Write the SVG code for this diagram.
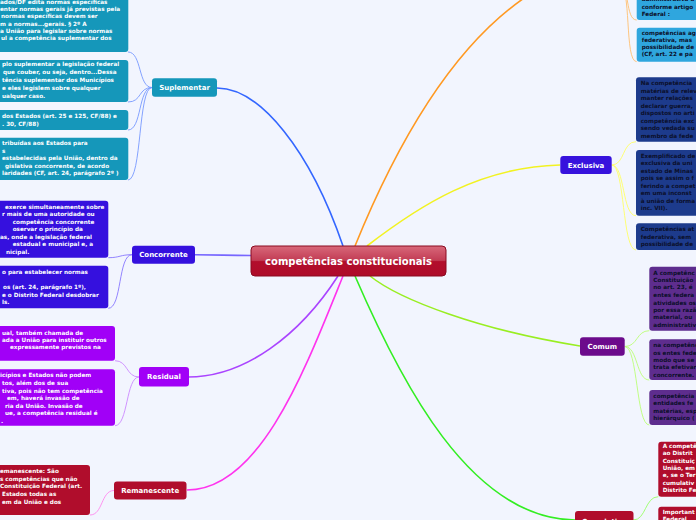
<svg xmlns="http://www.w3.org/2000/svg" width="696" height="520" viewBox="0 0 696 520">
<defs>
<linearGradient id="gc" x1="0" y1="0" x2="0" y2="1">
<stop offset="0" stop-color="#d8687a"/>
<stop offset="0.48" stop-color="#c23c54"/>
<stop offset="0.52" stop-color="#b20e2c"/>
<stop offset="1" stop-color="#ae0c29"/>
</linearGradient>
</defs>
<style>
text{font-family:"DejaVu Sans",Verdana,sans-serif;font-weight:bold}
.n{font-size:5.7px;fill:#ffffff}
.d{font-size:5.7px;fill:#0b0f2a}
.b{font-size:7px;fill:#ffffff;text-anchor:middle}
.c{fill:none;stroke-width:1.6}
.s{fill:none;stroke-width:0.9}
.teal{fill:#1597ba}
.indigo{fill:#3510de}
.viol{fill:#a100f7}
.red{fill:#b00d2c}
.navy{fill:#1d3b8c}
.plum{fill:#6c0b8c}
.plumn{fill:#5e2d8e}
.sky{fill:#2fa6de}
</style>
<rect x="0" y="0" width="696" height="520" fill="#f2f5fe"/>

<g id="connectors">
<path class="c" stroke="#3366ff" d="M343,246 C310,150 260,88 217,88"/>
<path class="c" stroke="#ff9922" d="M355,246 C390,160 450,40 540,-12"/>
<path class="c" stroke="#f2f222" d="M367,246 C420,205 480,167 560,165"/>
<path class="c" stroke="#99ee22" d="M370,276 C400,300 480,330 580,346"/>
<path class="c" stroke="#33ee22" d="M355,276 C400,380 470,519 575,520"/>
<path class="c" stroke="#ff33ee" d="M343,276 C305,370 260,490 187,490"/>
<path class="c" stroke="#aa44ff" d="M338,276 C300,335 245,377 188,377"/>
<path class="c" stroke="#7766ff" d="M195,254.7 C220,254.7 226,255.5 251,255.5"/>

<path class="s" stroke="#7799ff" d="M152,87.5 C138,87.5 142,52 128,52"/>
<path class="s" stroke="#7799ff" d="M152,87.5 C138,87.5 142,102 128,102"/>
<path class="s" stroke="#7799ff" d="M152,87.5 C138,87.5 142,130 128,130"/>
<path class="s" stroke="#7799ff" d="M152,87.5 C138,87.5 142,180 128,180"/>

<path class="s" stroke="#8877ff" d="M132,254.7 C120,254.7 120,257.7 108.3,257.7"/>
<path class="s" stroke="#8877ff" d="M132,254.7 C118,254.7 122,308.3 108.3,308.3"/>

<path class="s" stroke="#cc88ff" d="M139,377 C126,377 128,360.7 115,360.7"/>
<path class="s" stroke="#cc88ff" d="M139,377 C126,377 128,425.7 115,425.7"/>

<path class="s" stroke="#ff88ee" d="M114,490.5 C101,490.5 103,515 90,515"/>

<path class="s" stroke="#ffc070" d="M619,-16 C630,-16 625,20 636.7,20"/>
<path class="s" stroke="#ffc070" d="M619,-16 C632,-16 624,61.7 636.7,61.7"/>

<path class="s" stroke="#ffff66" d="M611.7,165 C625,165 622,141.7 636,141.7"/>
<path class="s" stroke="#ffff66" d="M611.7,165 C625,165 622,215.7 636,215.7"/>
<path class="s" stroke="#ffff66" d="M611.7,165 C625,165 622,250 636,250"/>

<path class="s" stroke="#bbff77" d="M624.7,346.5 C638,346.5 636,330.7 649.3,330.7"/>
<path class="s" stroke="#bbff77" d="M624.7,346.5 C638,346.5 636,380 649.3,380"/>
<path class="s" stroke="#bbff77" d="M624.7,346.5 C638,346.5 636,425 649.3,425"/>

<path class="s" stroke="#99ff66" d="M633.5,520 C646,520 645,496.7 658.3,496.7"/>
<path class="s" stroke="#99ff66" d="M633.5,520 C646,520 645,540 658.3,540"/>
</g>

<g id="center">
<rect x="251" y="246" width="195" height="30" rx="4" fill="url(#gc)" stroke="#8a0a20" stroke-width="1"/>
<text x="348.5" y="264.8" font-size="10px" fill="#ffffff" text-anchor="middle">competências constitucionais</text>
</g>

<g id="suplementar">
<rect class="teal" x="152" y="78.3" width="65" height="18.5" rx="3"/>
<text class="b" x="184.5" y="90">Suplementar</text>
</g>
<g id="sup-note-1">
<rect class="teal" x="-200" y="-10" width="328.3" height="62" rx="3"/>
<text class="n" x="0" y="3.7">ados/DF edita normas específicas</text>
<text class="n" x="0" y="11.1">entar normas gerais já previstas pela</text>
<text class="n" x="1" y="18">normas específicas devem ser</text>
<text class="n" x="0" y="25.7">m a normas...gerais. § 2º A</text>
<text class="n" x="0" y="32.9">a União para legislar sobre normas</text>
<text class="n" x="1" y="40.3">ul a competência suplementar dos</text>
</g>
<g id="sup-note-2">
<rect class="teal" x="-200" y="60" width="328.3" height="42" rx="3"/>
<text class="n" x="2" y="66.3">plo suplementar a legislação federal</text>
<text class="n" x="3" y="74">que couber, ou seja, dentro...Dessa</text>
<text class="n" x="2" y="82.3">tência suplementar dos Municípios</text>
<text class="n" x="2" y="90.3">e eles legislem sobre qualquer</text>
<text class="n" x="2" y="98">ualquer caso.</text>
</g>
<g id="sup-note-3">
<rect class="teal" x="-200" y="110" width="328.3" height="20" rx="3"/>
<text class="n" x="2" y="117.7">dos Estados (art. 25 e 125, CF/88) e</text>
<text class="n" x="2" y="125.7">. 30, CF/88)</text>
</g>
<g id="sup-note-4">
<rect class="teal" x="-200" y="137.7" width="328.3" height="42.3" rx="3"/>
<text class="n" x="2" y="145.3">tribuídas aos Estados para</text>
<text class="n" x="2" y="152.7">s</text>
<text class="n" x="2" y="160.3">estabelecidas pela União, dentro da</text>
<text class="n" x="5" y="167.7">gislativa concorrente, de acordo</text>
<text class="n" x="2" y="175.3">laridades (CF, art. 24, parágrafo 2º )</text>
</g>

<g id="concorrente">
<rect class="indigo" x="132" y="245.7" width="63" height="18" rx="3"/>
<text class="b" x="163.5" y="257.2">Concorrente</text>
</g>
<g id="conc-note-1">
<rect class="indigo" x="-200" y="200.7" width="308.3" height="57" rx="3"/>
<text class="n" x="5" y="208.7">exerce simultaneamente sobre</text>
<text class="n" x="2" y="216">r mais de uma autoridade ou</text>
<text class="n" x="12.7" y="223.7">competência concorrente</text>
<text class="n" x="12.7" y="231">oservar o princípio da</text>
<text class="n" x="0" y="238.7">as, onde a legislação federal</text>
<text class="n" x="12.7" y="246.3">estadual e municipal e, a</text>
<text class="n" x="6" y="253.7">nicipal.</text>
</g>
<g id="conc-note-2">
<rect class="indigo" x="-200" y="265.7" width="308.3" height="42.6" rx="3"/>
<text class="n" x="2" y="273.7">o para estabelecer normas</text>
<text class="n" x="3" y="288.7">os (art. 24, parágrafo 1º),</text>
<text class="n" x="2" y="297">e o Distrito Federal desdobrar</text>
<text class="n" x="2" y="304.3">ls.</text>
</g>

<g id="residual">
<rect class="viol" x="139" y="367" width="50" height="19.5" rx="3"/>
<text class="b" x="164" y="379.3">Residual</text>
</g>
<g id="res-note-1">
<rect class="viol" x="-200" y="326" width="315" height="34.7" rx="3"/>
<text class="n" x="2" y="334.7">ual, também chamada de</text>
<text class="n" x="2" y="342">ada a União para instituir outros</text>
<text class="n" x="10" y="349.3">expressamente previstos na</text>
</g>
<g id="res-note-2">
<rect class="viol" x="-200" y="369.3" width="315" height="56.4" rx="3"/>
<text class="n" x="0" y="377">icípios e Estados não podem</text>
<text class="n" x="2" y="384.7">tos, além dos de sua</text>
<text class="n" x="2" y="392.7">tiva, pois não tem competência</text>
<text class="n" x="7" y="400.3">em, haverá invasão de</text>
<text class="n" x="5" y="408">ria da União. Invasão de</text>
<text class="n" x="5" y="415.3">ue, a competência residual é</text>
<text class="n" x="1" y="422.7">.</text>
</g>

<g id="remanescente">
<rect class="red" x="114" y="481.5" width="72.5" height="18" rx="3"/>
<text class="b" x="150.2" y="493">Remanescente</text>
</g>
<g id="rem-note-1">
<rect class="red" x="-200" y="465" width="290" height="50" rx="3"/>
<text class="n" x="0" y="472.7">emanescente: São</text>
<text class="n" x="0" y="481">s competências que não</text>
<text class="n" x="0" y="488.3">Constituição Federal (art.</text>
<text class="n" x="2" y="496">Estados todas as</text>
<text class="n" x="2" y="503.7">em da União e dos</text>
</g>

<g id="orange-note-1">
<rect class="sky" x="636.7" y="-30" width="100" height="50" rx="3"/>
<text class="d" x="641.7" y="1.2">administrativa a</text>
<text class="d" x="641.7" y="8.6">conforme artigo</text>
<text class="d" x="641.7" y="16">Federal :</text>
</g>
<g id="orange-note-2">
<rect class="sky" x="636.7" y="27.7" width="100" height="34" rx="3"/>
<text class="d" x="641.7" y="34.7">competências ag</text>
<text class="d" x="641.7" y="41.5">federativa, mas</text>
<text class="d" x="641.7" y="48.7">possibilidade de</text>
<text class="d" x="641.7" y="56">(CF, art. 22 e pa</text>
</g>

<g id="exclusiva">
<rect fill="#3712dd" x="560.3" y="156" width="51.4" height="18" rx="3"/>
<text class="b" x="586" y="167.5">Exclusiva</text>
</g>
<g id="excl-note-1">
<rect class="navy" x="636" y="77.3" width="100" height="64.4" rx="3"/>
<text class="d" x="640.7" y="85.3">Na competência</text>
<text class="d" x="640.7" y="92.7">matérias de relev</text>
<text class="d" x="640.7" y="100.3">manter relações</text>
<text class="d" x="640.7" y="108">declarar guerra,</text>
<text class="d" x="640.7" y="115.3">dispostos no arti</text>
<text class="d" x="640.7" y="122.7">competência exc</text>
<text class="d" x="640.7" y="130.3">sendo vedada su</text>
<text class="d" x="640.7" y="137.7">membro da fede</text>
</g>
<g id="excl-note-2">
<rect class="navy" x="636" y="150" width="100" height="65.7" rx="3"/>
<text class="d" x="640.7" y="158">Exemplificado de</text>
<text class="d" x="640.7" y="165.3">exclusiva da uni</text>
<text class="d" x="640.7" y="172.7">estado de Minas</text>
<text class="d" x="640.7" y="180.3">pois se assim o f</text>
<text class="d" x="640.7" y="188">ferindo a compet</text>
<text class="d" x="640.7" y="195.3">em uma inconst</text>
<text class="d" x="640.7" y="202.7">à união de forma</text>
<text class="d" x="640.7" y="210.3">inc. VII).</text>
</g>
<g id="excl-note-3">
<rect class="navy" x="636" y="223.3" width="100" height="26.7" rx="3"/>
<text class="d" x="640.7" y="231.3">Competências at</text>
<text class="d" x="640.7" y="238.7">federativa, sem</text>
<text class="d" x="640.7" y="246">possibilidade de</text>
</g>

<g id="comum">
<rect class="plum" x="580" y="337.3" width="44.7" height="18.4" rx="3"/>
<text class="b" x="602.3" y="349">Comum</text>
</g>
<g id="com-note-1">
<rect class="plumn" x="649.3" y="266.7" width="100" height="64" rx="3"/>
<text class="d" x="653.3" y="274.7">A competênc</text>
<text class="d" x="653.3" y="282">Constituição</text>
<text class="d" x="653.3" y="289.3">no art. 23, é</text>
<text class="d" x="653.3" y="297">entes federa</text>
<text class="d" x="653.3" y="304.7">atividades os</text>
<text class="d" x="653.3" y="312">por essa razã</text>
<text class="d" x="653.3" y="319.3">material, ou</text>
<text class="d" x="653.3" y="327">administrativ</text>
</g>
<g id="com-note-2">
<rect class="plumn" x="649.3" y="339.3" width="100" height="40.7" rx="3"/>
<text class="d" x="653.3" y="347">na competênc</text>
<text class="d" x="653.3" y="354.7">os entes fede</text>
<text class="d" x="653.3" y="362">modo que se</text>
<text class="d" x="653.3" y="369.3">trata efetivar</text>
<text class="d" x="653.3" y="377">concorrente.</text>
</g>
<g id="com-note-3">
<rect class="plumn" x="649.3" y="390" width="100" height="35" rx="3"/>
<text class="d" x="653.3" y="398">competência</text>
<text class="d" x="653.3" y="405.3">entidades fe</text>
<text class="d" x="653.3" y="412.7">matérias, esp</text>
<text class="d" x="653.3" y="420.3">hierárquico (</text>
</g>

<g id="cumulativa">
<rect class="red" x="575" y="511" width="58.5" height="20" rx="3"/>
<text class="b" x="604.2" y="523.5">Cumulativa</text>
</g>
<g id="cum-note-1">
<rect class="red" x="658.3" y="441.7" width="100" height="55" rx="3"/>
<text class="n" x="662.7" y="447.7">A competê</text>
<text class="n" x="662.7" y="455.1">ao Distrit</text>
<text class="n" x="662.7" y="462.5">Constituiç</text>
<text class="n" x="662.7" y="469.9">União, em</text>
<text class="n" x="662.7" y="477.3">e, se o Ter</text>
<text class="n" x="662.7" y="484.7">cumulativ</text>
<text class="n" x="662.7" y="492.1">Distrito Fe</text>
</g>
<g id="cum-note-2">
<rect class="red" x="658.3" y="506.7" width="100" height="40" rx="3"/>
<text class="n" x="662.7" y="513.7">Important</text>
<text class="n" x="662.7" y="521.1">Federal</text>
</g>
</svg>
